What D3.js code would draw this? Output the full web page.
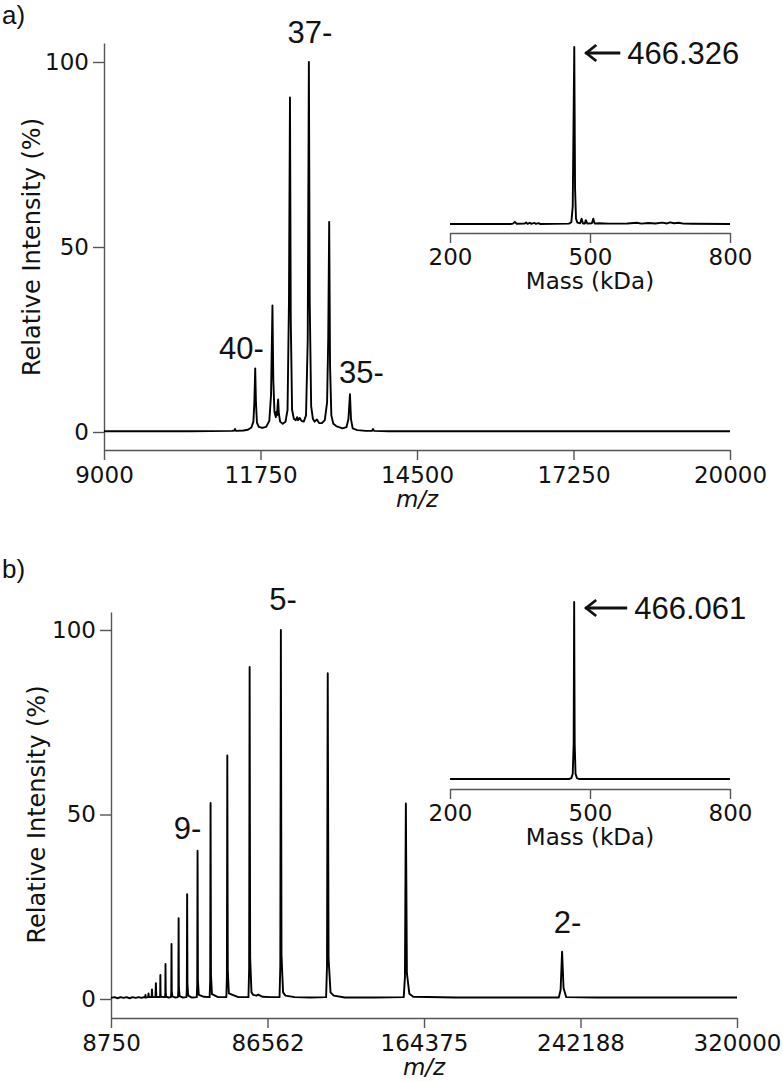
<!DOCTYPE html>
<html>
<head>
<meta charset="utf-8">
<script src="https://cdn.jsdelivr.net/npm/d3@7"></script>
<style>
  body { margin: 0; background: #fff; }
  text { font-family: "DejaVu Sans", sans-serif; font-size: 23px; fill: #111; }
  .big { font-family: "Liberation Sans", Arial, sans-serif; font-size: 31px; }
  .axis path, .axis line { stroke: #555; stroke-width: 1.4; }
  .trace { fill: none; stroke: #000; stroke-width: 1.9; stroke-linejoin: round; }
</style>
</head>
<body>
<svg id="fig" width="783" height="1081"></svg>
<script>
// ---- data ----
var xTicksA = [9000, 11750, 14500, 17250, 20000];
var xTicksB = [8750, 86562, 164375, 242188, 320000];
var yTicks = [0, 50, 100];
var massTicks = [200, 500, 800];

// panel a spectrum, [m/z, relative intensity %]
var traceA = [[9000,0.2],[10500,0.2],[11250,0.3],[11295,0.4],[11302,0.8],[11310,0.4],[11330,0.3],
  [11450,0.4],[11530,0.6],[11590,1.2],[11625,2.8],[11642,8],[11657,17.2],[11670,8],[11688,2.5],
  [11720,1.4],[11780,1.1],[11850,1.4],[11905,3],[11935,10],[11960,34.2],[11975,14],[11995,5.5],
  [12020,4],[12030,5.5],[12040,4.5],[12050,7],[12060,8.8],[12072,5],[12095,2.8],[12140,2.2],
  [12190,2.8],[12225,6],[12250,35],[12268,90.4],[12282,30],[12305,6],[12335,3.6],[12370,3.2],
  [12395,4],[12410,3.2],[12440,3.8],[12470,3],[12510,2.8],[12550,4.5],[12580,25],[12600,100],
  [12615,35],[12640,7],[12670,3.6],[12700,2.8],[12740,3.4],[12780,2.4],[12830,2.4],[12880,3.2],
  [12920,8],[12940,25],[12957,56.8],[12972,18],[12995,4.5],[13030,2.2],[13080,1.6],[13130,1.3],
  [13190,1.0],[13260,1.3],[13295,3.5],[13322,10.2],[13340,3.5],[13370,1.0],[13450,0.5],
  [13600,0.3],[13710,0.3],[13727,0.8],[13745,0.3],[14000,0.2],[20000,0.2]];

// panel b spectrum, [m/z, relative intensity %]
var traceB = [[8750,0.3],[10500,0.5],[12000,0.2],[13500,0.5],[15000,0.3],[16500,0.5],[18000,0.2],
  [19500,0.5],[21000,0.3],[22500,0.5],[24000,0.3],[25000,0.5],
  [25700,0.4],[25891,1.1],[26050,0.4],
  [27230,0.5],[27415,1.5],[27600,0.5],
  [28940,0.5],[29128,2.6],[29320,0.5],
  [30850,0.5],[31070,4.3],[31280,0.6],
  [33050,0.5],[33200,1.2],[33289,6.5],[33390,1.4],[33600,0.6],
  [35600,0.5],[35750,1.5],[35850,9.5],[35960,1.8],[36200,0.6],[37500,0.4],
  [38550,0.5],[38720,1.8],[38838,14.9],[38970,2.2],[39250,0.7],[40800,0.4],
  [42050,0.5],[42240,2.5],[42369,21.9],[42510,3],[42850,0.8],[44500,0.4],
  [46250,0.5],[46460,3],[46605,28.4],[46770,4],[47150,0.9],[49000,0.4],
  [51400,0.5],[51620,4],[51784,40.2],[51970,5],[52400,1.1],[55000,0.6],
  [57800,0.5],[58070,5],[58257,53.1],[58460,6.5],[58950,1.3],[62000,0.5],
  [66100,0.5],[66370,6],[66579,66],[66810,8],[67350,1.5],[72000,0.5],
  [77100,0.5],[77430,8],[77676,90],[77940,11],[78600,1.8],[79500,1.1],[81000,0.9],[82000,1.2],
  [84000,0.6],[88000,0.5],
  [92550,0.5],[92930,9],[93211,100],[93520,12],[94300,1.8],[95500,0.9],[100000,0.5],[108000,0.4],
  [115700,0.5],[116150,9],[116514,88.3],[116920,11],[117900,1.8],[119500,0.9],[125000,0.4],[140000,0.4],
  [154300,0.5],[154900,6],[155353,53],[155870,7],[157100,1.4],[159000,0.6],[180000,0.4],[210000,0.4],
  [231400,0.4],[232300,2.5],[233029,12.8],[233760,3],[235100,0.5],[250000,0.4],[280000,0.4],[320000,0.4]];

// deconvolved mass insets, [kDa, %]
var massA = [[200,0],[330,0],[335,0.2],[339,1.2],[343,0.1],[360,0.2],[363,0.9],[366,0.1],[371,0.7],
  [374,0.1],[381,0.6],[384,0.1],[390,0.5],[393,0],[455,0.2],[460,1],[463,10],[466.3,100],[468,20],
  [470,3],[473,0.8],[479,0.4],[482,3],[485,0.3],[489,0.3],[491,2.2],[494,0.3],[504,0.4],[507,3],
  [510,0.3],[520,0.4],[540,0.2],[580,0.3],[600,0.7],[610,0.2],[625,0.6],[640,0.3],[655,0.8],
  [665,0.3],[672,0.9],[680,0.4],[690,0.7],[700,0.2],[720,0.1],[800,0]];
var massB = [[200,0],[455,0],[460,0.5],[463,3],[465,20],[466.06,100],[467.2,20],[469,3],[472,0.5],
  [476,0],[800,0]];

// charge state labels, [text, m/z, % height of label baseline]
var labelsA = [["37-", 12620, 105.1], ["40-", 11416, 19.7], ["35-", 13525, 13.2]];
var labelsB = [["5-", 94268, 105.4], ["9-", 46786, 43.4], ["2-", 235718, 17.9]];
var peakA = ["466.326", 466.326];
var peakB = ["466.061", 466.061];

var svg = d3.select("#fig");

function drawPanel(o) {
  var g = svg.append("g");

  var x = d3.scaleLinear().domain(o.xDomain).range([o.left, o.right]);
  var y = d3.scaleLinear().domain([0, 100]).range([o.y0, o.y100]);

  // y spine runs from the top down to the x axis line
  var ySpine = d3.scaleLinear()
    .domain([y.invert(o.axisY), y.invert(o.spineTop)])
    .range([o.axisY, o.spineTop]);

  g.append("g")
    .attr("class", "axis")
    .attr("transform", `translate(${o.left},0)`)
    .call(d3.axisLeft(ySpine).tickValues(yTicks).tickSize(11).tickSizeOuter(0).tickPadding(4));

  g.append("g")
    .attr("class", "axis")
    .attr("transform", `translate(0,${o.axisY})`)
    .call(d3.axisBottom(x).tickValues(o.xTicks).tickFormat(d3.format("d"))
      .tickSize(10).tickSizeOuter(0).tickPadding(6.5));

  g.append("path")
    .datum(o.trace)
    .attr("class", "trace")
    .attr("d", d3.line().x(d => x(d[0])).y(d => y(d[1])));

  // charge state labels
  g.selectAll(".big.cs")
    .data(o.labels)
    .enter().append("text")
    .attr("class", "big cs")
    .attr("text-anchor", "middle")
    .attr("x", d => x(d[1]))
    .attr("y", d => y(d[2]))
    .text(d => d[0]);

  g.append("text")
    .attr("x", x(o.xTicks[2]))
    .attr("y", o.axisY + 57)
    .attr("text-anchor", "middle")
    .style("font-style", "italic")
    .text("m/z");

  g.append("text")
    .attr("transform", `translate(${o.ylabX},${(o.y0 + o.y100) / 2}) rotate(-90)`)
    .attr("text-anchor", "middle")
    .attr("dy", "0.35em")
    .style("font-size", "24px")
    .text("Relative Intensity (%)");

  g.append("text")
    .attr("class", "big")
    .style("font-size", "26px")
    .attr("x", 2)
    .attr("y", o.tagY)
    .text(o.tag);

  // inset: deconvolved mass
  var xm = d3.scaleLinear().domain([200, 800]).range([450, 730]);
  var ym = d3.scaleLinear().domain([0, 100]).range([o.inBase, o.inTop]);

  g.append("g")
    .attr("class", "axis")
    .attr("transform", `translate(0,${o.inAxis})`)
    .call(d3.axisBottom(xm).tickValues(massTicks).tickSize(10).tickSizeOuter(0).tickPadding(5.5));

  g.append("path")
    .datum(o.mass)
    .attr("class", "trace")
    .attr("d", d3.line().x(d => xm(d[0])).y(d => ym(d[1])));

  g.append("text")
    .attr("x", xm(500))
    .attr("y", o.inAxis + 56)
    .attr("text-anchor", "middle")
    .text("Mass (kDa)");

  // arrow pointing at the apex
  var tipX = xm(o.peak[1]) + 11;
  var ay = ym(100) + 6;
  g.append("line")
    .attr("x1", tipX).attr("x2", tipX + o.arrowLen)
    .attr("y1", ay).attr("y2", ay)
    .attr("stroke", "#111").attr("stroke-width", 2.8);
  g.append("path")
    .attr("d", `M${tipX + 11},${ay - 8}L${tipX + 1},${ay}L${tipX + 11},${ay + 8}`)
    .attr("fill", "none").attr("stroke", "#111").attr("stroke-width", 2.8);
  g.append("text")
    .attr("class", "big")
    .attr("x", tipX + o.arrowLen + 7)
    .attr("y", ay + 11)
    .text(o.peak[0]);
}

drawPanel({
  tag: "a)", tagY: 24,
  xDomain: [9000, 20000], xTicks: xTicksA,
  left: 104, right: 730, y0: 432, y100: 62, spineTop: 43, axisY: 450, ylabX: 32,
  trace: traceA, labels: labelsA,
  inBase: 224, inTop: 47, inAxis: 233, mass: massA, peak: peakA, arrowLen: 35
});

drawPanel({
  tag: "b)", tagY: 578,
  xDomain: [8750, 320000], xTicks: xTicksB,
  left: 111, right: 737, y0: 999, y100: 630, spineTop: 612, axisY: 1018, ylabX: 37,
  trace: traceB, labels: labelsB,
  inBase: 779, inTop: 602, inAxis: 789, mass: massB, peak: peakB, arrowLen: 42
});
</script>
</body>
</html>
